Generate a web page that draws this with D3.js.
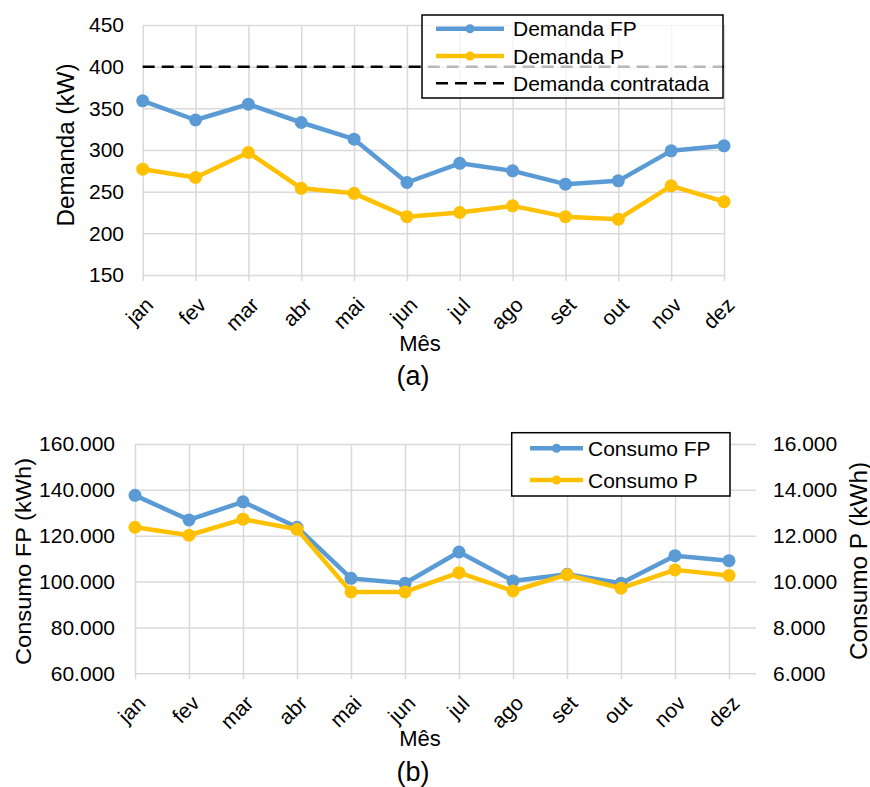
<!DOCTYPE html>
<html>
<head>
<meta charset="utf-8">
<script src="https://cdn.jsdelivr.net/npm/d3@7"></script>
<style>
  html, body { margin: 0; padding: 0; background: #fff; }
  svg { display: block; font-family: "Liberation Sans", Arial, sans-serif; }
</style>
</head>
<body>
<svg id="chart" width="870" height="787"></svg>
<script>
// Monthly demand and consumption data
const months = ["jan", "fev", "mar", "abr", "mai", "jun", "jul", "ago", "set", "out", "nov", "dez"];
const demandaFP = [359, 336, 355, 333, 313, 261, 284, 275, 259, 263, 299, 305];
const demandaP = [277, 267, 297, 254, 248, 220, 225, 233, 220, 217, 257, 238];
const demandaContratada = 400;
const consumoFP = [137600, 126900, 134800, 123700, 101400, 99250, 112900, 100300, 103200, 99250, 111300, 109100];
const consumoP = [12370, 12020, 12720, 12280, 9550, 9550, 10390, 9590, 10300, 9710, 10510, 10270];

const demandaTicks = [150, 200, 250, 300, 350, 400, 450];
const consumoFPTicks = [60000, 80000, 100000, 120000, 140000, 160000];
const consumoPTicks = [6000, 8000, 10000, 12000, 14000, 16000];

const BLUE = "#5B9BD5", GOLD = "#FFC000", GRID = "#d9d9d9";
const locale = d3.formatLocale({ decimal: ",", thousands: ".", grouping: [3], currency: ["R$", ""] });
const fmtThousands = locale.format(",.0f");

const svg = d3.select("#chart");

function styleGrid(g) {
  g.select(".domain").remove();
  g.selectAll(".tick line").attr("stroke", GRID).attr("stroke-width", 1.5);
  g.selectAll(".tick text").attr("fill", "#000").style("font-size", "21px");
}

function monthAxis(x, yAxis, top) {
  const g = svg.append("g")
    .attr("transform", `translate(0,${yAxis + 6})`)
    .call(d3.axisBottom(x).tickSize(-(yAxis + 6 - top)).tickPadding(0));
  styleGrid(g);
  g.selectAll(".tick text")
    .attr("y", null).attr("dy", null)
    .attr("dominant-baseline", "central")
    .attr("text-anchor", "end")
    .attr("transform", "translate(6,20) rotate(-45)");
  return g;
}

function series(x, y, values, color) {
  const line = d3.line().x((d, i) => x(months[i])).y(d => y(d));
  svg.append("path").datum(values)
    .attr("fill", "none").attr("stroke", color).attr("stroke-width", 4.5)
    .attr("stroke-linejoin", "round").attr("d", line);
  svg.append("g").selectAll("circle").data(values).join("circle")
    .attr("cx", (d, i) => x(months[i])).attr("cy", d => y(d))
    .attr("r", 6.5).attr("fill", color);
}

function rotatedTitle(text, cx, cy, len, size) {
  svg.append("text")
    .attr("transform", `translate(${cx},${cy}) rotate(-90)`)
    .attr("text-anchor", "middle").attr("dominant-baseline", "central")
    .attr("textLength", len).attr("lengthAdjust", "spacingAndGlyphs")
    .style("font-size", size + "px").attr("fill", "#000")
    .text(text);
}

function legend(x0, y0, w, h, items, sampleX0, sampleX1, textX, alpha) {
  const g = svg.append("g");
  g.append("rect").attr("x", x0).attr("y", y0).attr("width", w).attr("height", h)
    .attr("fill", "#fff").attr("fill-opacity", alpha)
    .attr("stroke", "#000").attr("stroke-width", 1.5);
  items.forEach(it => {
    g.append("line").attr("x1", sampleX0).attr("x2", sampleX1).attr("y1", it.y).attr("y2", it.y)
      .attr("stroke", it.color).attr("stroke-width", it.dash ? 2.5 : 4.5)
      .attr("stroke-dasharray", it.dash || null);
    if (!it.dash) {
      g.append("circle").attr("cx", (sampleX0 + sampleX1) / 2).attr("cy", it.y)
        .attr("r", 4.5).attr("fill", it.color);
    }
    g.append("text").attr("x", textX).attr("y", it.y).attr("dominant-baseline", "central")
      .style("font-size", "21px").attr("fill", "#000").text(it.label);
  });
}

// ---------- (a) Demanda ----------
{
  const left = 142.7, right = 724, top = 25, bottom = 275;
  const x = d3.scalePoint().domain(months).range([left, right]);
  const y = d3.scaleLinear().domain([150, 450]).range([bottom, top]);

  const gy = svg.append("g").attr("transform", `translate(${left},0)`)
    .call(d3.axisLeft(y).tickValues(demandaTicks).tickSize(-(right - left)).tickPadding(18.7));
  styleGrid(gy);
  monthAxis(x, bottom, top);

  svg.append("line")
    .attr("x1", left).attr("x2", right)
    .attr("y1", y(demandaContratada)).attr("y2", y(demandaContratada))
    .attr("stroke", "#000").attr("stroke-width", 2.5).attr("stroke-dasharray", "12,7");

  series(x, y, demandaFP, BLUE);
  series(x, y, demandaP, GOLD);

  rotatedTitle("Demanda (kW)", 66, 145, 163, 23);
  svg.append("text").attr("x", 420).attr("y", 351).attr("text-anchor", "middle")
    .style("font-size", "22px").text("Mês");
  svg.append("text").attr("x", 413).attr("y", 385).attr("text-anchor", "middle")
    .style("font-size", "27px").text("(a)");

  legend(422, 15, 301, 83, [
    { label: "Demanda FP", color: BLUE, y: 28.7 },
    { label: "Demanda P", color: GOLD, y: 56 },
    { label: "Demanda contratada", color: "#000", y: 83.3, dash: "12,7" }
  ], 436, 504, 513, 0.72);
}

// ---------- (b) Consumo ----------
{
  const left = 135, right = 729, gridRight = 756, top = 444, bottom = 673.3;
  const x = d3.scalePoint().domain(months).range([left, right]);
  const yL = d3.scaleLinear().domain([60000, 160000]).range([bottom, top]);
  const yR = d3.scaleLinear().domain([6000, 16000]).range([bottom, top]);

  const gy = svg.append("g").attr("transform", `translate(${left},0)`)
    .call(d3.axisLeft(yL).tickValues(consumoFPTicks).tickFormat(fmtThousands)
      .tickSize(-(gridRight - left)).tickPadding(20));
  styleGrid(gy);

  const gr = svg.append("g").attr("transform", `translate(${gridRight},0)`)
    .call(d3.axisRight(yR).tickValues(consumoPTicks).tickFormat(fmtThousands)
      .tickSize(0).tickPadding(17));
  styleGrid(gr);

  monthAxis(x, bottom, top);

  series(x, yL, consumoFP, BLUE);
  series(x, yR, consumoP, GOLD);

  rotatedTitle("Consumo FP  (kWh)", 23, 561.5, 207, 22);
  rotatedTitle("Consumo P (kWh)", 858.5, 561, 198, 23);
  svg.append("text").attr("x", 420).attr("y", 746).attr("text-anchor", "middle")
    .style("font-size", "22px").text("Mês");
  svg.append("text").attr("x", 413).attr("y", 781).attr("text-anchor", "middle")
    .style("font-size", "27px").text("(b)");

  legend(511.7, 432.7, 218.3, 63.3, [
    { label: "Consumo FP", color: BLUE, y: 448.3 },
    { label: "Consumo P", color: GOLD, y: 480 }
  ], 530, 583, 588, 1);
}
</script>
</body>
</html>
